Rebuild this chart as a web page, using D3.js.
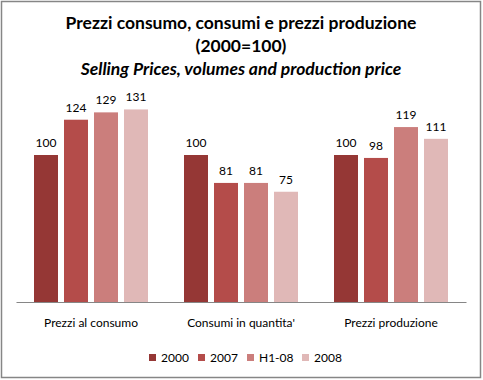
<!DOCTYPE html>
<html>
<head>
<meta charset="utf-8">
<script src="https://cdn.jsdelivr.net/npm/d3@7"></script>
<style>
  body { margin: 0; background: #fff; }
  svg { display: block; font-family: Lato, "Open Sans", sans-serif; }
</style>
</head>
<body>
<svg id="chart" width="483" height="380"></svg>
<script>
const categories = ["Prezzi al consumo", "Consumi in quantita'", "Prezzi produzione"]
const seriesNames = ["2000", "2007", "H1-08", "2008"]
const values2000 = [100, 100, 100]
const values2007 = [124, 81, 98]
const valuesH108 = [129, 81, 119]
const values2008 = [131, 75, 111]
const colors = ["#953735", "#b44c4a", "#cb7e7c", "#e0b8b7"]

const seriesValues = [values2000, values2007, valuesH108, values2008]

let svg = d3.select('#chart')

// outer frame
svg.append("rect")
    .attr("x", 1.5).attr("y", 1.5)
    .attr("width", 479).attr("height", 376)
    .attr("fill", "#fff")
    .attr("stroke", "#868686")
    .attr("stroke-width", 1.5)

/* -------------- TITLE -------------- */

let title = svg.append("g").attr("text-anchor", "middle")
title.append("text").attr("x", 241).attr("y", 29)
    .attr("font-size", 17.5).attr("font-weight", "bold")
    .text("Prezzi consumo, consumi e prezzi produzione")
title.append("text").attr("x", 241).attr("y", 52)
    .attr("font-size", 17.5).attr("font-weight", "bold")
    .text("(2000=100)")
title.append("text").attr("x", 241).attr("y", 75)
    .attr("font-size", 17.5).attr("font-weight", "bold").attr("font-style", "italic")
    .text("Selling Prices, volumes and production price")

/* -------------- BARS -------------- */

let baseline = 302
let x0 = d3.scaleBand().domain(categories).range([16, 466]).paddingInner(0).paddingOuter(0)
let x1 = d3.scaleBand().domain(seriesNames).range([18, 132]).paddingInner(0.2).paddingOuter(0)
let y = d3.scaleLinear().domain([0, 140]).range([baseline, baseline - 140 * 1.47])

let groups = svg.selectAll(".group")
    .data(categories)
    .enter().append("g")
    .attr("class", "group")
    .attr("transform", function (d) { return "translate(" + x0(d) + ",0)" })

groups.selectAll("rect")
    .data(function (d, i) { return seriesNames.map(function (s, j) { return { s: s, v: seriesValues[j][i], c: colors[j] } }) })
    .enter().append("rect")
    .attr("x", function (d) { return x1(d.s) })
    .attr("y", function (d) { return y(d.v) })
    .attr("width", x1.bandwidth())
    .attr("height", function (d) { return baseline - y(d.v) })
    .attr("fill", function (d) { return d.c })

groups.selectAll(".val")
    .data(function (d, i) { return seriesNames.map(function (s, j) { return { s: s, v: seriesValues[j][i] } }) })
    .enter().append("text")
    .attr("class", "val")
    .attr("x", function (d) { return x1(d.s) + x1.bandwidth() / 2 })
    .attr("y", function (d) { return y(d.v) - 8 })
    .attr("text-anchor", "middle")
    .attr("font-size", 12)
    .attr("fill", "#000")
    .text(function (d) { return d.v })

// x axis
let xAxis = svg.append("g")
    .attr("transform", "translate(0," + baseline + ")")
    .call(d3.axisBottom(x0).tickSize(0).tickPadding(16))
xAxis.select(".domain").attr("stroke", "#868686").attr("stroke-width", 1.2)
xAxis.selectAll("text").attr("font-size", 12).attr("font-family", "Lato, sans-serif").attr("fill", "#000")

/* -------------- LEGEND -------------- */

let legendX = [149, 198, 247, 302]
let legend = svg.selectAll(".legend")
    .data(seriesNames)
    .enter().append("g")
    .attr("class", "legend")
    .attr("transform", function (d, i) { return "translate(" + legendX[i] + ",354)" })

legend.append("rect")
    .attr("width", 7).attr("height", 7)
    .attr("fill", function (d, i) { return colors[i] })
legend.append("text")
    .attr("x", 12).attr("y", 8)
    .attr("font-size", 12)
    .text(function (d) { return d })
</script>
</body>
</html>
